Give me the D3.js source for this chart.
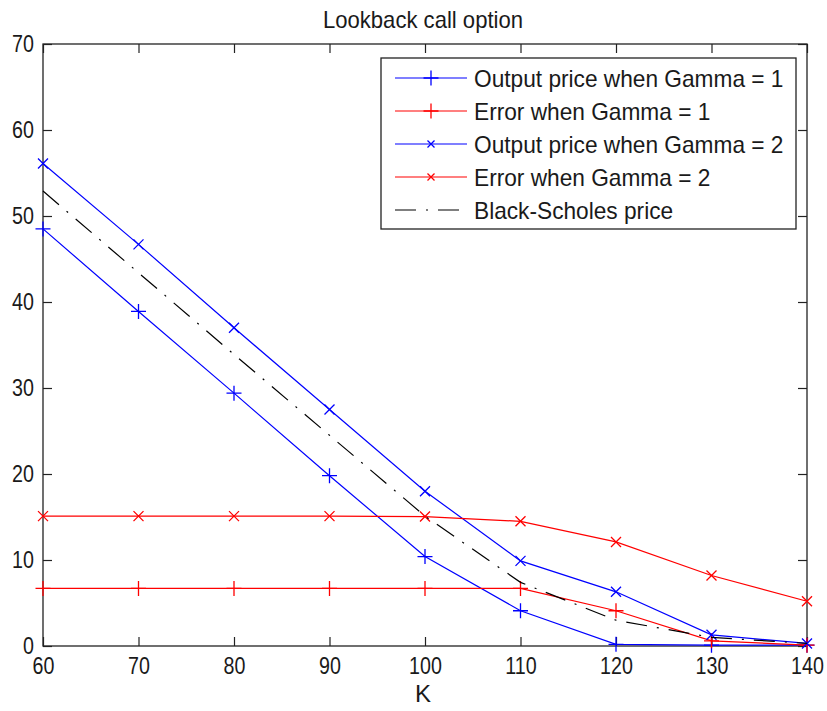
<!DOCTYPE html>
<html>
<head>
<meta charset="utf-8">
<script src="https://cdn.jsdelivr.net/npm/d3@7"></script>
<style>
  html, body { margin: 0; padding: 0; background: #fff; }
  svg { display: block; font-family: "Liberation Sans", Arial, sans-serif; }
</style>
</head>
<body>
<svg id="chart" width="827" height="711"></svg>
<script>
// strike prices
const strikes = [60, 70, 80, 90, 100, 110, 120, 130, 140];
// series
const priceGamma1 = [48.5, 38.9, 29.4, 19.8, 10.4, 4.1, 0.2, 0.1, 0.1];
const errorGamma1 = [6.7, 6.7, 6.7, 6.7, 6.7, 6.7, 4.1, 0.6, 0.1];
const priceGamma2 = [56.1, 46.7, 37.0, 27.5, 18.0, 9.9, 6.3, 1.3, 0.3];
const errorGamma2 = [15.1, 15.1, 15.1, 15.1, 15.05, 14.5, 12.1, 8.2, 5.2];
const blackScholes = [52.9, 43.4, 33.9, 24.5, 15.1, 7.4, 3.0, 1.0, 0.3];

const xTicks = [60, 70, 80, 90, 100, 110, 120, 130, 140];
const yTicks = [0, 10, 20, 30, 40, 50, 60, 70];

const series = [
  { name: "Output price when Gamma = 1", values: priceGamma1, color: "#0000ff", marker: "plus" },
  { name: "Error when Gamma = 1", values: errorGamma1, color: "#ff0000", marker: "plus" },
  { name: "Output price when Gamma = 2", values: priceGamma2, color: "#0000ff", marker: "cross" },
  { name: "Error when Gamma = 2", values: errorGamma2, color: "#ff0000", marker: "cross" },
  { name: "Black-Scholes price", values: blackScholes, color: "#000000", marker: null, dash: "21,10,2,10" }
];

const plotLeft = 43, plotRight = 807, plotTop = 44, plotBottom = 646;
const svg = d3.select("#chart");

const x = d3.scaleLinear().domain([60, 140]).range([plotLeft, plotRight]);
const y = d3.scaleLinear().domain([0, 70]).range([plotBottom, plotTop]);

// squeeze text a bit, the original font is narrower than Arial
function squeeze(sel, k) {
  sel.each(function () {
    const len = this.getComputedTextLength();
    if (len > 0) {
      d3.select(this).attr("textLength", len * k).attr("lengthAdjust", "spacingAndGlyphs");
    }
  });
}

// frame
svg.append("rect")
  .attr("x", plotLeft).attr("y", plotTop)
  .attr("width", plotRight - plotLeft).attr("height", plotBottom - plotTop)
  .attr("fill", "#fff").attr("stroke", "#222").attr("stroke-width", 1.3);

const tickColor = "#222";
const gx = svg.append("g")
  .attr("transform", `translate(0,${plotBottom})`)
  .call(d3.axisBottom(x).tickValues(xTicks).tickSizeInner(-9).tickSizeOuter(0).tickPadding(11));
const gxTop = svg.append("g")
  .attr("transform", `translate(0,${plotTop})`)
  .call(d3.axisTop(x).tickValues(xTicks).tickSizeInner(-9).tickSizeOuter(0).tickFormat(""));
const gy = svg.append("g")
  .attr("transform", `translate(${plotLeft},0)`)
  .call(d3.axisLeft(y).tickValues(yTicks).tickSizeInner(-9).tickSizeOuter(0).tickPadding(11));
const gyRight = svg.append("g")
  .attr("transform", `translate(${plotRight},0)`)
  .call(d3.axisRight(y).tickValues(yTicks).tickSizeInner(-9).tickSizeOuter(0).tickFormat(""));

[gx, gxTop, gy, gyRight].forEach(g => {
  g.select(".domain").remove();
  g.selectAll(".tick line").attr("stroke", tickColor).attr("stroke-width", 1.2);
  g.selectAll(".tick text").attr("fill", "#1a1a1a").style("font-size", "24px")
    .style("font-family", "'Liberation Sans', Arial, sans-serif")
    .attr("transform", "scale(0.82,1)");
});

// title and x label
const title = svg.append("text")
  .attr("x", 423).attr("y", 28)
  .attr("text-anchor", "middle")
  .attr("fill", "#1a1a1a")
  .style("font-size", "24px")
  .text("Lookback call option");
squeeze(title, 0.92);

svg.append("text")
  .attr("x", 423).attr("y", 702)
  .attr("text-anchor", "middle")
  .attr("fill", "#1a1a1a")
  .style("font-size", "24px")
  .text("K");

function markerPath(type, cx, cy, r) {
  if (type === "plus") {
    return `M${cx - r},${cy}H${cx + r}M${cx},${cy - r}V${cy + r}`;
  }
  return `M${cx - r},${cy - r}L${cx + r},${cy + r}M${cx - r},${cy + r}L${cx + r},${cy - r}`;
}

const line = d3.line()
  .x((d, i) => x(strikes[i]))
  .y(d => y(d));

series.forEach(s => {
  svg.append("path")
    .datum(s.values)
    .attr("d", line)
    .attr("fill", "none")
    .attr("stroke", s.color)
    .attr("stroke-width", 1.2)
    .attr("stroke-dasharray", s.dash || null);
  if (s.marker) {
    const r = s.marker === "plus" ? 7.5 : 5;
    svg.append("g").selectAll("path")
      .data(s.values)
      .join("path")
      .attr("d", (d, i) => markerPath(s.marker, x(strikes[i]), y(d), r))
      .attr("fill", "none")
      .attr("stroke", s.color)
      .attr("stroke-width", 1.3);
  }
});

// legend
const legend = svg.append("g");
legend.append("rect")
  .attr("x", 381).attr("y", 58)
  .attr("width", 415).attr("height", 171)
  .attr("fill", "#fff").attr("stroke", "#222").attr("stroke-width", 1.3);

const rowY = d3.scaleLinear().domain([0, 4]).range([78, 210]);
series.forEach((s, i) => {
  const cy = rowY(i);
  legend.append("line")
    .attr("x1", 395).attr("x2", 467)
    .attr("y1", cy).attr("y2", cy)
    .attr("stroke", s.color)
    .attr("stroke-width", 1.2)
    .attr("stroke-dasharray", s.dash || null);
  if (s.marker) {
    legend.append("path")
      .attr("d", markerPath(s.marker, 431, cy, s.marker === "plus" ? 7.5 : 3.5))
      .attr("fill", "none")
      .attr("stroke", s.color)
      .attr("stroke-width", 1.3);
  }
  const t = legend.append("text")
    .attr("x", 474).attr("y", cy + 8.5)
    .attr("fill", "#1a1a1a")
    .style("font-size", "24px")
    .text(s.name);
  squeeze(t, 0.945);
});
</script>
</body>
</html>
